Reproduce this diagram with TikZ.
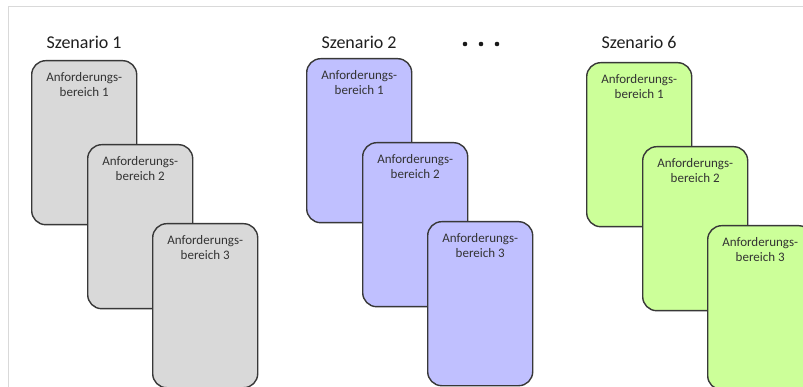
\documentclass[tikz,border=0pt]{standalone}
\usepackage{fontspec}
\setmainfont{Carlito}
\begin{document}
\begin{tikzpicture}[x=1pt,y=-1pt,
  area/.style={draw=black!78, line width=1.4pt, rounded corners=14pt,
    minimum width=105pt, minimum height=164pt, anchor=north west, inner sep=0pt},
  areatext/.style={font=\fontsize{13}{15}\selectfont, text=black!80, align=center},
  title/.style={font=\fontsize{18}{20}\selectfont, text=black!88, anchor=west},
  greybox/.style={area, fill={rgb,255:red,217;green,217;blue,217}},
  bluebox/.style={area, fill={rgb,255:red,192;green,192;blue,255}},
  greenbox/.style={area, fill={rgb,255:red,204;green,255;blue,153}}]
  % canvas and thin frame lines
  \useasboundingbox (0,0) rectangle (803,387);
  \fill[white] (0,0) rectangle (803,387);
  \draw[black!15, line width=1pt] (8,387) -- (8,7) -- (803,7);

  % one scenario: title and three staggered cards
  \newcommand{\scenariocards}[5]{%
    \node[title] (t#1) at (#2+12,42) {#4};
    \node[#5] (a#1) at (#2,#3) {};
    \node[areatext, anchor=north] at ([yshift=-9pt]a#1.north) {Anforderungs-\\bereich 1};
    \node[#5] (b#1) at (#2+56,#3+84) {};
    \node[areatext, anchor=north] at ([yshift=-9pt]b#1.north) {Anforderungs-\\bereich 2};
    \node[#5] (c#1) at (#2+121,#3+163) {};
    \node[areatext, anchor=north] at ([yshift=-9pt]c#1.north) {Anforderungs-\\bereich 3};
  }
  \scenariocards{1}{31}{60}{Szenario 1}{greybox}
  \scenariocards{2}{306}{58}{Szenario 2}{bluebox}
  \scenariocards{6}{586}{62}{Szenario 6}{greenbox}

  % ellipsis between scenario 2 and scenario 6
  \foreach \x [count=\i] in {465,481,497}
    \fill[black!90] (\x,44) circle (2.3pt) coordinate (dot\i);
\end{tikzpicture}
\end{document}
